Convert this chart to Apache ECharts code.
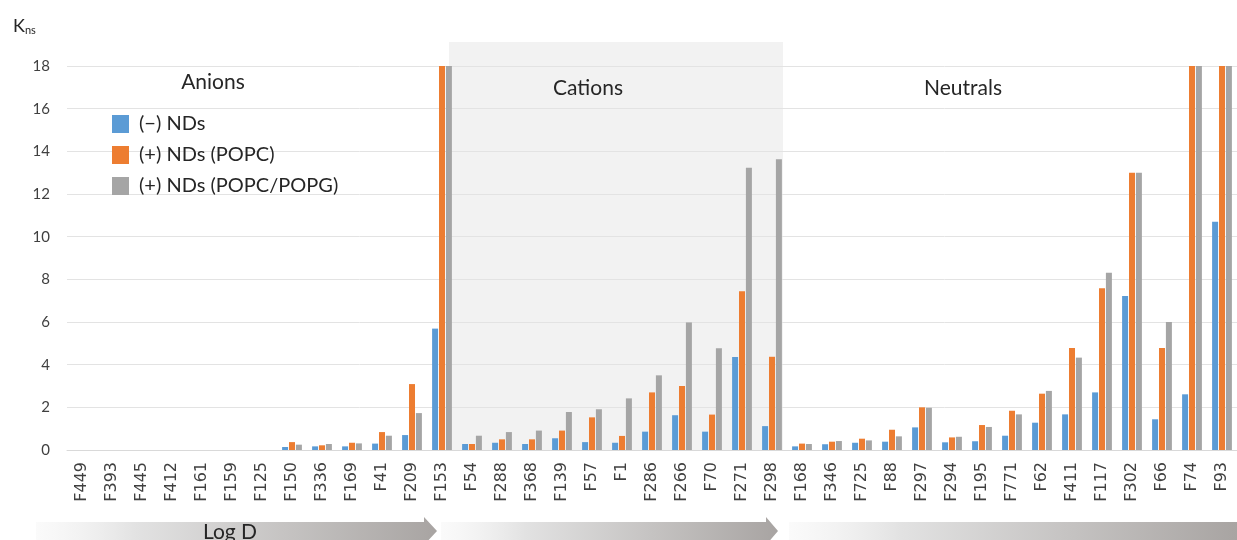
<!DOCTYPE html>
<html>
<head>
<meta charset="utf-8">
<script src="https://cdn.jsdelivr.net/npm/echarts@6/dist/echarts.min.js"></script>
<style>html,body{margin:0;padding:0;background:#fff;}#c{width:1237px;height:540px;}</style>
</head>
<body>
<div id="c"></div>
<script>
const categories = ['F449','F393','F445','F412','F161','F159','F125','F150','F336','F169','F41','F209','F153',
  'F54','F288','F368','F139','F57','F1','F286','F266','F70','F271','F298',
  'F168','F346','F725','F88','F297','F294','F195','F771','F62','F411','F117','F302','F66','F74','F93'];
const ndsNeg = [0,0,0,0,0,0,0,0.14,0.17,0.17,0.30,0.70,5.69,
  0.28,0.34,0.28,0.55,0.37,0.34,0.86,1.63,0.86,4.36,1.12,
  0.17,0.27,0.34,0.39,1.06,0.36,0.41,0.67,1.28,1.67,2.70,7.22,1.44,2.61,10.70];
const ndsPOPC = [0,0,0,0,0,0,0,0.37,0.22,0.34,0.84,3.09,18,
  0.28,0.50,0.50,0.91,1.53,0.66,2.70,3.00,1.66,7.44,4.37,
  0.30,0.39,0.53,0.95,2.00,0.59,1.17,1.84,2.64,4.78,7.58,13.0,4.78,18,18];
const ndsPOPG = [0,0,0,0,0,0,0,0.25,0.28,0.31,0.67,1.73,18,
  0.67,0.84,0.91,1.78,1.91,2.42,3.50,5.98,4.77,13.23,13.63,
  0.28,0.42,0.45,0.64,1.98,0.62,1.08,1.67,2.77,4.33,8.31,13.0,6.00,18,18];
const seriesNames = ['(\u2212) NDs','(+) NDs (POPC)','(+) NDs (POPC/POPG)'];
const colors = ['#5b9bd5','#ed7d31','#a5a5a5'];
const sectionLabels = ['Anions','Cations','Neutrals'];

const FONT = 'Lato, "Open Sans", sans-serif';
const chart = echarts.init(document.getElementById('c'));

function arrow(x0, x1, headLen, clipRight) {
  const cy = 531, bh = 9, hh = 14;
  const pts = clipRight ? [[x0, cy-bh],[x1, cy-bh],[x1, cy+bh],[x0, cy+bh]]
    : [[x0, cy-bh],[x1-headLen, cy-bh],[x1-headLen, cy-hh],[x1, cy],[x1-headLen, cy+hh],[x1-headLen, cy+bh],[x0, cy+bh]];
  return {
    type: 'polygon', z: 1,
    shape: { points: pts },
    style: {
      fill: new echarts.graphic.LinearGradient(0, 0, 1, 0, [
        { offset: 0, color: 'rgba(240,240,240,0.3)' },
        { offset: 0.25, color: '#e2e2e2' },
        { offset: 1, color: '#a8a4a2' }
      ])
    }
  };
}

const option = {
  animation: false,
  backgroundColor: '#fff',
  color: colors,
  textStyle: { fontFamily: FONT },
  grid: { left: 67, right: 0, top: 66, bottom: 90, containLabel: false },
  legend: {
    orient: 'vertical', left: 112, top: 114, padding: 0,
    itemWidth: 17, itemHeight: 18, itemGap: 11, icon: 'rect',
    textStyle: { fontSize: 20, color: '#262626', fontFamily: FONT, padding: [0,0,0,5] },
    data: seriesNames
  },
  xAxis: {
    type: 'category', data: categories,
    axisLine: { lineStyle: { color: '#d9d9d9', width: 1 } },
    axisTick: { show: false },
    axisLabel: { rotate: 90, interval: 0, fontSize: 16, color: '#404040', margin: 12, fontFamily: '"DejaVu Sans", sans-serif' }
  },
  yAxis: {
    type: 'value', min: 0, max: 18, interval: 2,
    name: '{k|K}{s|ns}', nameLocation: 'end', nameGap: 0,
    nameTextStyle: {
      align: 'left', verticalAlign: 'bottom', padding: [0, 0, 30, -54],
      rich: { k: { fontSize: 18, color: '#262626', fontFamily: FONT }, s: { fontSize: 11, color: '#262626', fontFamily: FONT, padding: [8,0,0,0] } }
    },
    axisLine: { show: false }, axisTick: { show: false },
    splitLine: { lineStyle: { color: '#e3e3e3', width: 1 } },
    axisLabel: { fontSize: 15, color: '#404040', margin: 17, fontFamily: FONT }
  },
  graphic: [
    { type: 'rect', z: -1, shape: { x: 449, y: 42, width: 334, height: 408 }, style: { fill: '#f2f2f2' } },
    { type: 'text', z: 5, x: 213, y: 82, style: { text: sectionLabels[0], fill: '#262626', font: '21px ' + FONT, align: 'center', verticalAlign: 'middle' } },
    { type: 'text', z: 5, x: 588, y: 88, style: { text: sectionLabels[1], fill: '#262626', font: '21px ' + FONT, align: 'center', verticalAlign: 'middle' } },
    { type: 'text', z: 5, x: 963, y: 88, style: { text: sectionLabels[2], fill: '#262626', font: '21px ' + FONT, align: 'center', verticalAlign: 'middle' } },
    arrow(36, 437, 13, false),
    arrow(441, 778, 12, false),
    arrow(789, 1237, 12, true),
    { type: 'text', z: 5, x: 230, y: 532, style: { text: 'Log D', fill: '#262626', font: '21px ' + FONT, align: 'center', verticalAlign: 'middle' } }
  ],
  series: [
    { name: seriesNames[0], type: 'bar', data: ndsNeg, barWidth: 6, barGap: '15%' },
    { name: seriesNames[1], type: 'bar', data: ndsPOPC, barWidth: 6, barGap: '15%' },
    { name: seriesNames[2], type: 'bar', data: ndsPOPG, barWidth: 6, barGap: '15%' }
  ]
};
chart.setOption(option);
</script>
</body>
</html>
